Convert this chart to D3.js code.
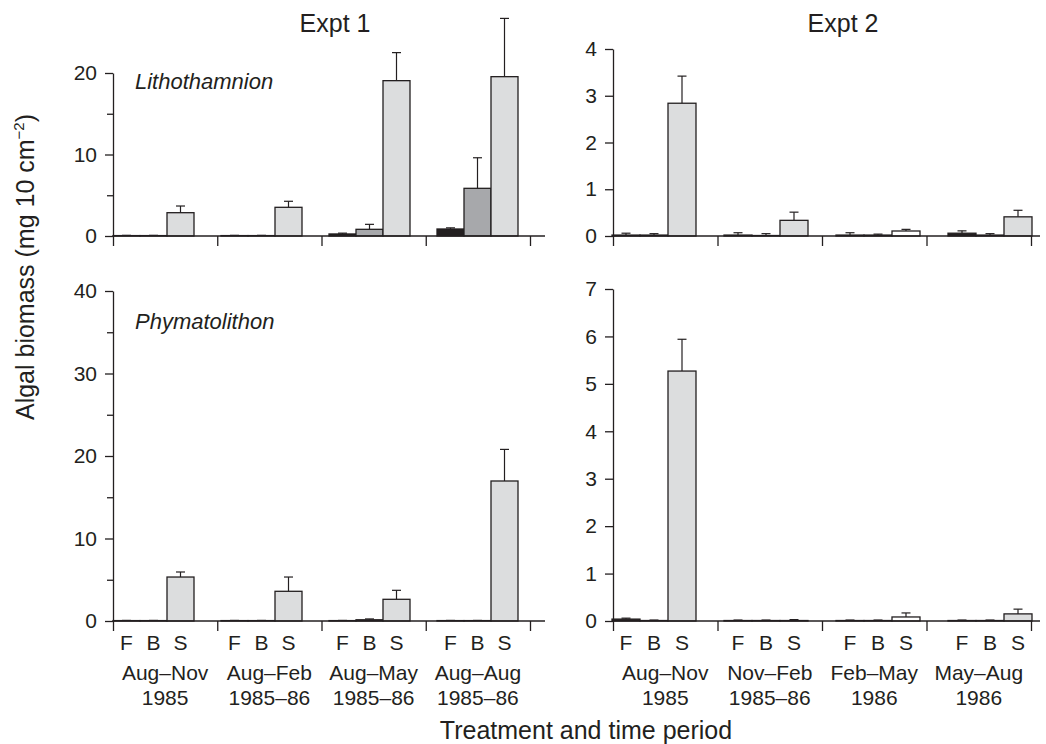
<!DOCTYPE html>
<html>
<head>
<meta charset="utf-8">
<script src="https://cdn.jsdelivr.net/npm/d3@7"></script>
<style>
  body { margin: 0; background: #fff; }
  text { font-family: "Liberation Sans", Arial, sans-serif; fill: #231f20; }
</style>
</head>
<body>
<script>
// treatments and time periods
var treatments = ["F", "B", "S"];
var expt1Periods = [["Aug\u2013Nov", "1985"], ["Aug\u2013Feb", "1985\u201386"], ["Aug\u2013May", "1985\u201386"], ["Aug\u2013Aug", "1985\u201386"]];
var expt2Periods = [["Aug\u2013Nov", "1985"], ["Nov\u2013Feb", "1985\u201386"], ["Feb\u2013May", "1986"], ["May\u2013Aug", "1986"]];

// mean biomass per period [F, B, S] and upper error (SE)
var lithoExpt1Mean = [[0.05, 0.05, 2.86], [0.05, 0.05, 3.52], [0.25, 0.82, 19.06], [0.86, 5.85, 19.55]];
var lithoExpt1Err  = [[0.03, 0.03, 0.82], [0.03, 0.03, 0.74], [0.10, 0.61, 3.44], [0.14, 3.75, 7.15]];
var lithoExpt2Mean = [[0.02, 0.02, 2.84], [0.02, 0.01, 0.335], [0.02, 0.02, 0.107], [0.06, 0.02, 0.41]];
var lithoExpt2Err  = [[0.04, 0.03, 0.58], [0.05, 0.04, 0.175], [0.05, 0.02, 0.035], [0.05, 0.03, 0.14]];
var phymaExpt1Mean = [[0.05, 0.05, 5.33], [0.05, 0.05, 3.6], [0.05, 0.15, 2.63], [0.05, 0.05, 16.97]];
var phymaExpt1Err  = [[0.02, 0.02, 0.61], [0.02, 0.02, 1.73], [0.02, 0.1, 1.09], [0.02, 0.02, 3.83]];
var phymaExpt2Mean = [[0.04, 0.01, 5.27], [0.01, 0.01, 0.01], [0.01, 0.01, 0.085], [0.01, 0.01, 0.15]];
var phymaExpt2Err  = [[0.02, 0.01, 0.67], [0.01, 0.01, 0.02], [0.01, 0.01, 0.085], [0.01, 0.01, 0.1]];

// y axis ticks
var lithoExpt1Ticks = [0, 10, 20], lithoExpt1Minor = [5, 15];
var lithoExpt2Ticks = [0, 1, 2, 3, 4];
var phymaExpt1Ticks = [0, 10, 20, 30, 40], phymaExpt1Minor = [5, 15, 25, 35];
var phymaExpt2Ticks = [0, 1, 2, 3, 4, 5, 6, 7];

var ink = "#231f20";
var fills = { F: "#231f20", B: "#a7a8ab", S: "#dcddde" };

var svg = d3.select("body").append("svg")
  .attr("width", 1046)
  .attr("height", 744);

var panels = [
  { mean: lithoExpt1Mean, err: lithoExpt1Err, ticks: lithoExpt1Ticks, minor: lithoExpt1Minor, max: 20,
    y: [236, 73], bars: [113, 518], dividers: [113, 530], axisEnd: 545, periods: expt1Periods, bottom: false, species: "Lithothamnion", spY: 89, white: -1 },
  { mean: lithoExpt2Mean, err: lithoExpt2Err, ticks: lithoExpt2Ticks, minor: [], max: 4,
    y: [236, 49], bars: [612, 1032], dividers: [613, 1031], axisEnd: 1040, periods: expt2Periods, bottom: false, white: 2 },
  { mean: phymaExpt1Mean, err: phymaExpt1Err, ticks: phymaExpt1Ticks, minor: phymaExpt1Minor, max: 40,
    y: [621, 291], bars: [113, 518], dividers: [113, 530], axisEnd: 545, periods: expt1Periods, bottom: true, species: "Phymatolithon", spY: 329, white: -1 },
  { mean: phymaExpt2Mean, err: phymaExpt2Err, ticks: phymaExpt2Ticks, minor: [], max: 7,
    y: [621, 289], bars: [612, 1032], dividers: [613, 1031], axisEnd: 1040, periods: expt2Periods, bottom: true, white: 2 }
];

panels.forEach(function (p) {
  var g = svg.append("g");
  var yScale = d3.scaleLinear().domain([0, p.max]).range(p.y);
  var x0 = d3.scaleBand().domain(d3.range(p.periods.length)).range(p.bars).paddingInner(0.25).paddingOuter(0);
  var x1 = d3.scaleBand().domain(treatments).range([0, x0.bandwidth()]);
  var xDiv = d3.scalePoint().domain(d3.range(p.periods.length + 1)).range(p.dividers);

  // bars
  var groups = g.selectAll(".grp")
    .data(p.mean)
    .enter().append("g")
    .attr("transform", function (d, i) { return "translate(" + x0(i) + ",0)"; });

  groups.each(function (row, i) {
    var grp = d3.select(this);
    row.forEach(function (v, j) {
      var t = treatments[j];
      var e = p.err[i][j];
      var cx = x1(t) + x1.bandwidth() / 2;
      // error bar
      grp.append("line")
        .attr("x1", cx).attr("x2", cx)
        .attr("y1", yScale(v)).attr("y2", yScale(v + e))
        .attr("stroke", ink).attr("stroke-width", 1.2);
      grp.append("line")
        .attr("x1", cx - 4.5).attr("x2", cx + 4.5)
        .attr("y1", yScale(v + e)).attr("y2", yScale(v + e))
        .attr("stroke", ink).attr("stroke-width", 1.2);
      grp.append("rect")
        .attr("x", x1(t))
        .attr("y", yScale(v))
        .attr("width", x1.bandwidth())
        .attr("height", yScale(0) - yScale(v))
        .attr("fill", (i === p.white && t === "S") ? "#fff" : fills[t])
        .attr("stroke", ink)
        .attr("stroke-width", 1.3);
    });
  });

  // y axis
  var yAxis = g.append("g")
    .attr("transform", "translate(" + p.dividers[0] + ",0)")
    .call(d3.axisLeft(yScale).tickValues(p.ticks).tickSize(8).tickSizeOuter(0).tickPadding(8).tickFormat(d3.format("d")));
  yAxis.selectAll("text").style("font-size", "21px").attr("fill", ink);
  if (p.minor.length) {
    g.append("g")
      .attr("transform", "translate(" + p.dividers[0] + ",0)")
      .call(d3.axisLeft(yScale).tickValues(p.minor).tickSize(6).tickFormat(""))
      .select(".domain").remove();
  }

  // x axis line and period dividers
  g.append("line")
    .attr("x1", p.dividers[0]).attr("x2", p.axisEnd)
    .attr("y1", yScale(0)).attr("y2", yScale(0))
    .attr("stroke", ink).attr("stroke-width", 1.3);
  var xAxis = g.append("g")
    .attr("transform", "translate(0," + yScale(0) + ")")
    .call(d3.axisBottom(xDiv).tickSize(10).tickFormat(""));
  xAxis.select(".domain").remove();

  g.selectAll(".domain, .tick line").attr("stroke", ink).attr("stroke-width", 1.3);

  if (p.species) {
    g.append("text")
      .attr("x", 135).attr("y", p.spY)
      .style("font-size", "22px").style("font-style", "italic")
      .text(p.species);
  }

  if (p.bottom) {
    groups.selectAll(".trt")
      .data(treatments)
      .enter().append("text")
      .attr("x", function (t) { return x1(t) + x1.bandwidth() / 2; })
      .attr("y", 650)
      .attr("text-anchor", "middle")
      .style("font-size", "21px")
      .text(function (t) { return t; });

    p.periods.forEach(function (lab, i) {
      var cx = (xDiv(i) + xDiv(i + 1)) / 2;
      g.append("text").attr("x", cx).attr("y", 680).attr("text-anchor", "middle")
        .style("font-size", "21px").text(lab[0]);
      g.append("text").attr("x", cx).attr("y", 705).attr("text-anchor", "middle")
        .style("font-size", "21px").text(lab[1]);
    });
  }
});

// titles
svg.append("text").attr("x", 335).attr("y", 32).attr("text-anchor", "middle")
  .style("font-size", "25px").text("Expt 1");
svg.append("text").attr("x", 843).attr("y", 32).attr("text-anchor", "middle")
  .style("font-size", "25px").text("Expt 2");

svg.append("text").attr("x", 586).attr("y", 739).attr("text-anchor", "middle")
  .style("font-size", "25px").text("Treatment and time period");

var yTitle = svg.append("text")
  .attr("transform", "translate(34,267) rotate(-90)")
  .attr("text-anchor", "middle")
  .style("font-size", "25px");
yTitle.append("tspan").text("Algal biomass (mg 10 cm");
yTitle.append("tspan").attr("dy", -10).style("font-size", "15px").text("\u22122");
yTitle.append("tspan").attr("dy", 10).text(")");
</script>
</body>
</html>
